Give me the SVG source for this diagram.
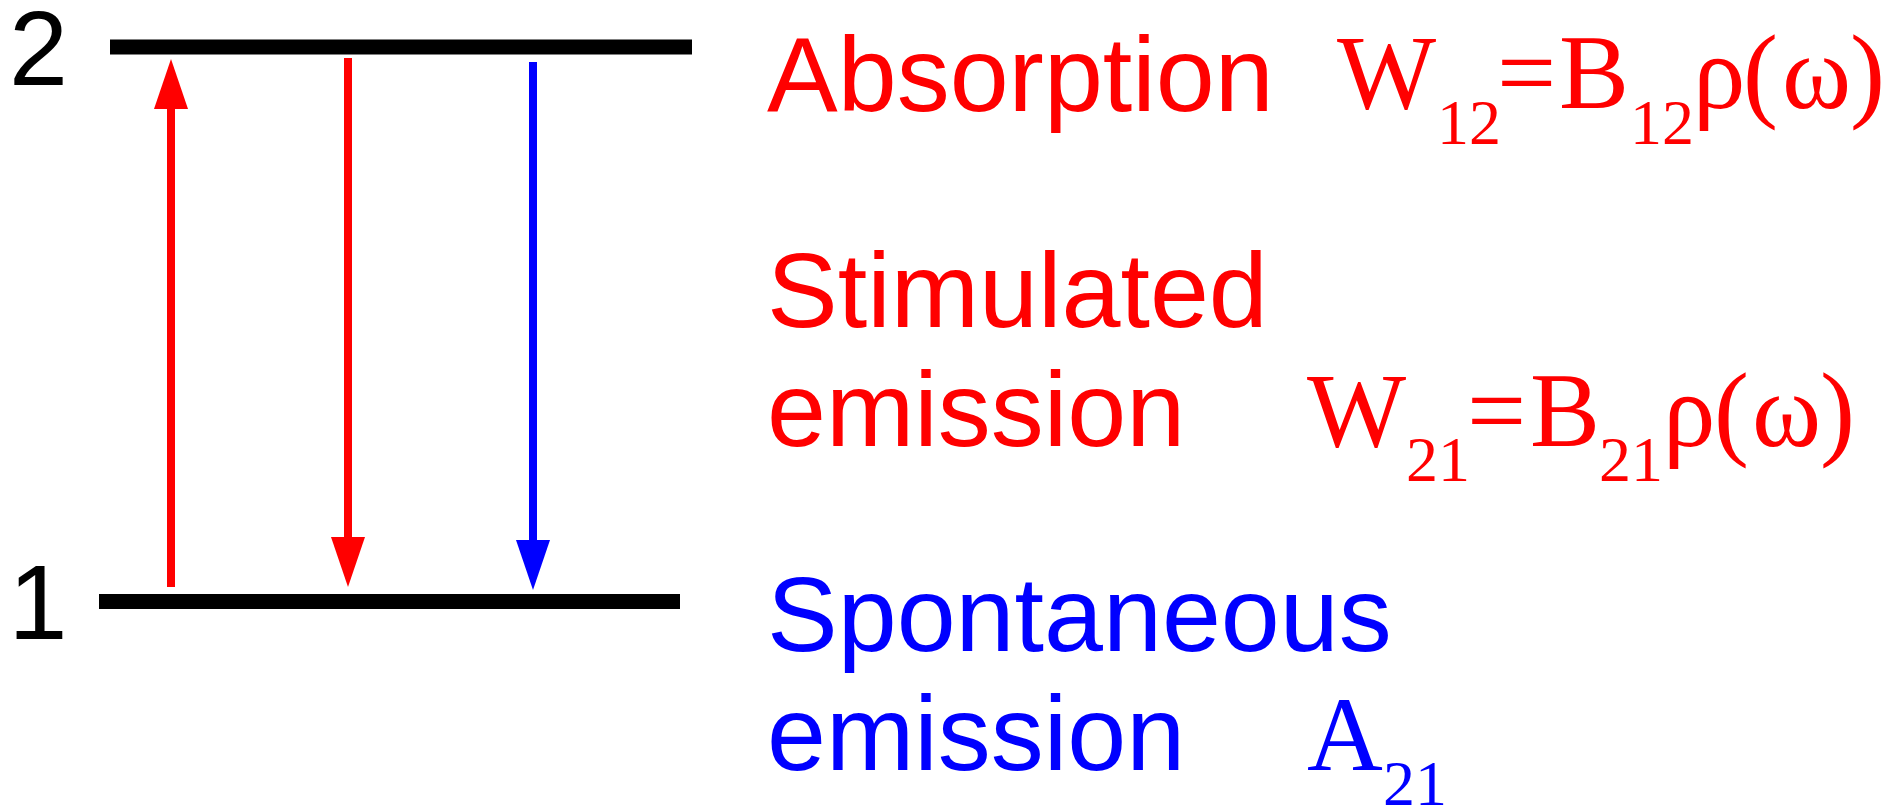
<svg xmlns="http://www.w3.org/2000/svg" width="1898" height="808" viewBox="0 0 1898 808">
  <style>
    .lvl { fill: #000000; }
    .num { font-family: "Liberation Sans", Arial, sans-serif; font-size: 106px; fill: #000000; }
    .lbl { font-family: "Liberation Sans", Arial, sans-serif; font-size: 106px; }
    .eq { font-family: "Liberation Serif", "Times New Roman", serif; font-size: 105px; }
    .sub { font-size: 64px; }
    .red { fill: #ff0000; }
    .blue { fill: #0000ff; }
    .shaft { stroke-width: 8; fill: none; stroke-linecap: butt; }
  </style>
  <defs>
    <!-- arrowheads start at the shaft end and point forward 50px -->
    <marker id="headRed" markerUnits="userSpaceOnUse" markerWidth="51" markerHeight="34" refX="0" refY="17" orient="auto">
      <path d="M0,0 L50,17 L0,34 Z" fill="#ff0000"/>
    </marker>
    <marker id="headBlue" markerUnits="userSpaceOnUse" markerWidth="51" markerHeight="34" refX="0" refY="17" orient="auto">
      <path d="M0,0 L50,17 L0,34 Z" fill="#0000ff"/>
    </marker>
  </defs>
  <rect width="1898" height="808" fill="#ffffff"/>

  <!-- energy levels -->
  <g id="level2">
    <rect class="lvl" x="110" y="39.5" width="582" height="15"/>
    <text class="num" x="9" y="85">2</text>
  </g>
  <g id="level1">
    <rect class="lvl" x="99" y="594" width="581" height="15"/>
    <text class="num" x="8.5" y="639">1</text>
  </g>

  <!-- transitions -->
  <g id="connectors">
    <line class="shaft" x1="171" y1="587" x2="171" y2="109" stroke="#ff0000" marker-end="url(#headRed)"/>
    <line class="shaft" x1="348" y1="58" x2="348" y2="537" stroke="#ff0000" marker-end="url(#headRed)"/>
    <line class="shaft" x1="533" y1="62" x2="533" y2="540" stroke="#0000ff" marker-end="url(#headBlue)"/>
  </g>

  <!-- process labels -->
  <g id="absorption">
    <text class="lbl red" x="767" y="111">Absorption</text>
    <text class="eq red">
      <tspan x="1337" y="108">W</tspan><tspan class="sub" x="1437" y="144">12</tspan><tspan x="1497" y="108">=</tspan><tspan x="1559" y="108">B</tspan><tspan class="sub" x="1630" y="144">12</tspan><tspan x="1693" y="108">ρ</tspan><tspan x="1743" y="108">(</tspan><tspan x="1782" y="108">ω</tspan><tspan x="1850" y="108">)</tspan>
    </text>
  </g>
  <g id="stimulated">
    <text class="lbl red" x="767" y="327">Stimulated</text>
    <text class="lbl red" x="767" y="446">emission</text>
    <text class="eq red">
      <tspan x="1307" y="446">W</tspan><tspan class="sub" x="1406" y="481">21</tspan><tspan x="1467" y="446">=</tspan><tspan x="1530" y="446">B</tspan><tspan class="sub" x="1599" y="481">21</tspan><tspan x="1663" y="446">ρ</tspan><tspan x="1714" y="446">(</tspan><tspan x="1752" y="446">ω</tspan><tspan x="1820" y="446">)</tspan>
    </text>
  </g>
  <g id="spontaneous">
    <text class="lbl blue" x="767" y="651">Spontaneous</text>
    <text class="lbl blue" x="767" y="770">emission</text>
    <text class="eq blue">
      <tspan x="1307" y="770">A</tspan><tspan class="sub" x="1383" y="805">21</tspan>
    </text>
  </g>
</svg>
